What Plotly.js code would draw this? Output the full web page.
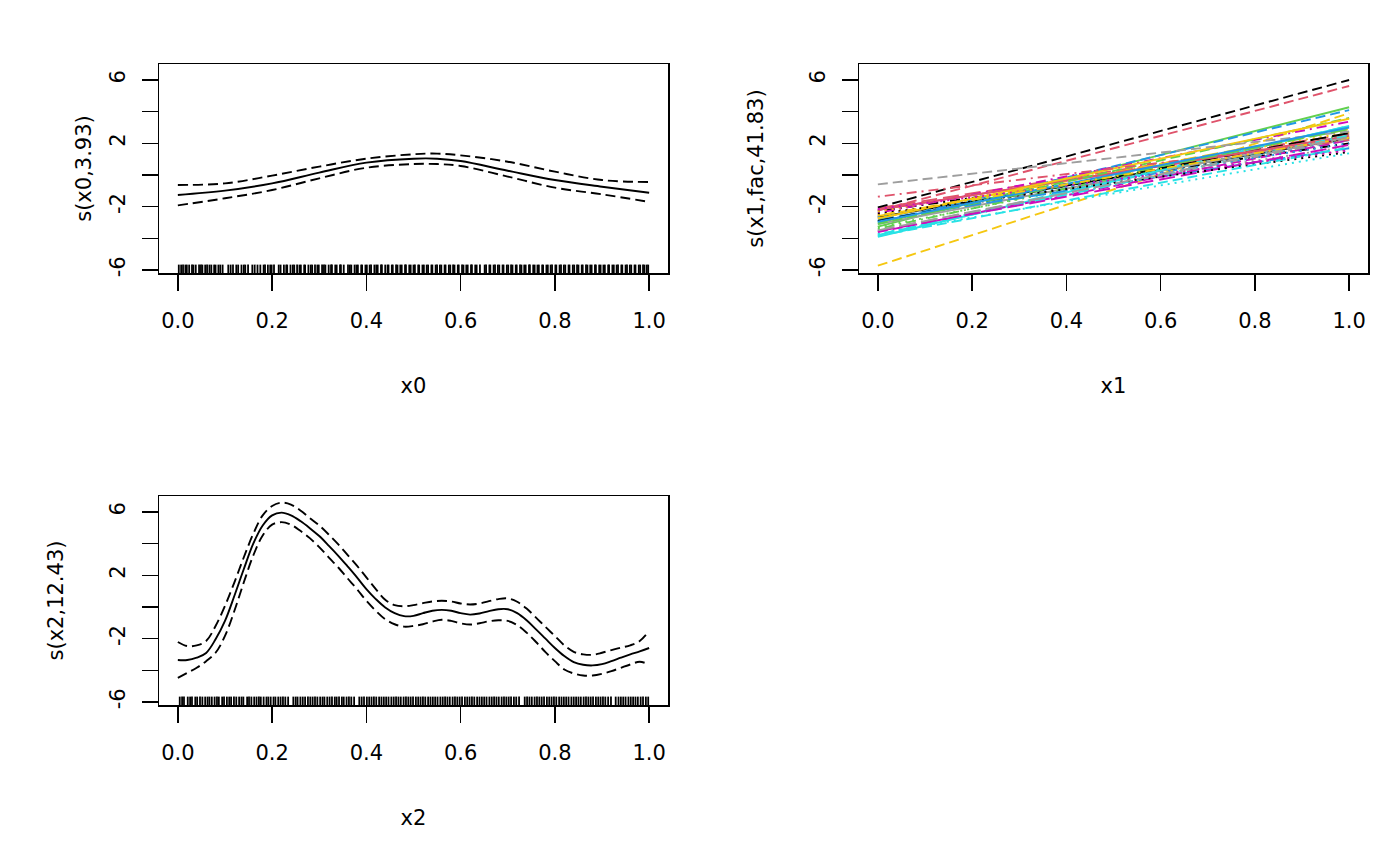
<!DOCTYPE html>
<html>
<head>
<meta charset="utf-8">
<script src="https://cdn.plot.ly/plotly-3.0.1.min.js"></script>
<style>html,body{margin:0;padding:0;background:#fff;}#plot{width:1400px;height:866px;}</style>
</head>
<body>
<div id="plot"></div>
<script>
// ---------- data ----------
// panel 1: s(x0,3.93)
const x0Grid = [0, 0.1, 0.2, 0.3, 0.4, 0.5, 0.55, 0.6, 0.7, 0.8, 0.9, 1.0];
const fit0 = [-1.26, -0.99, -0.53, 0.15, 0.78, 1.03, 1.03, 0.88, 0.27, -0.32, -0.74, -1.12];
const upper0 = [-0.63, -0.53, -0.04, 0.53, 1.03, 1.31, 1.35, 1.24, 0.84, 0.21, -0.32, -0.44];
const lower0 = [-1.92, -1.47, -0.95, -0.21, 0.46, 0.69, 0.69, 0.57, -0.10, -0.80, -1.22, -1.70];
const rug0 = [0.002,0.007,0.011,0.016,0.019,0.024,0.03,0.033,0.038,0.045,0.049,0.052,0.058,0.062,0.067,0.071,0.077,0.08,0.086,0.09,0.095,
  0.107,0.112,0.117,0.124,0.128,0.135,0.14,0.143,0.149,0.158,0.163,0.169,0.175,0.182,0.185,0.191,0.196,0.199,0.204,0.214,0.218,0.225,0.23,0.232,
  0.239,0.244,0.247,0.253,0.258,0.261,0.268,0.27,0.277,0.282,0.285,0.291,0.296,0.299,0.306,0.31,0.313,0.32,0.325,0.327,
  0.334,0.337,0.344,0.346,0.352,0.361,0.365,0.368,0.375,0.379,0.382,0.389,0.391,0.398,0.401,0.407,0.41,0.417,0.421,0.424,0.431,
  0.433,0.44,0.445,0.447,0.454,0.456,0.463,0.466,0.472,0.475,0.482,0.484,0.491,0.494,0.5,0.503,0.51,0.512,0.519,0.522,
  0.528,0.531,0.538,0.54,0.547,0.55,0.556,0.559,0.566,0.568,0.575,0.578,0.584,0.587,0.594,0.596,0.603,0.606,0.612,0.615,
  0.622,0.624,0.631,0.634,0.641,0.651,0.654,0.661,0.663,0.67,0.673,0.679,0.682,0.689,0.691,0.698,0.701,0.707,0.71,0.717,0.719,
  0.726,0.729,0.735,0.738,0.745,0.747,0.754,0.757,0.763,0.766,0.773,0.775,0.782,0.785,0.791,0.794,0.801,0.803,0.81,0.813,
  0.819,0.822,0.829,0.831,0.838,0.841,0.847,0.85,0.857,0.859,0.866,0.869,0.875,0.878,0.885,0.887,0.894,0.897,0.903,0.906,
  0.913,0.915,0.922,0.925,0.931,0.934,0.941,0.943,0.95,0.953,0.959,0.962,0.969,0.971,0.978,0.981,0.987,0.99,0.995,0.998];

// panel 2: s(x1,fac,41.83) -- one line per factor level, value at x1 = 0 and x1 = 1
const x1Ends = [0, 1];
const fsStart = [-2.67,-2.25,-3.30,-2.90,-3.80,-2.20,-5.73,-2.70,-2.30,-2.10,
                 -3.26,-3.00,-3.70,-2.40,-2.60,-3.10,-2.05,-2.50,-3.40,-2.80,
                 -3.90,-3.60,-2.30,-3.50,-2.90,-2.20,-3.10,-2.60,-3.75,-3.55,
                 -2.75,-0.59,-2.45,-1.37,-3.00,-2.95,-3.85,-2.15,-2.55,-3.50];
const fsEnd   = [2.32,5.62,2.60,2.20,3.10,2.40,3.90,1.80,2.00,2.60,
                 4.28,4.10,1.37,3.37,2.90,2.50,6.00,1.60,3.00,1.69,
                 3.10,2.20,2.70,2.30,2.65,2.45,3.60,2.00,2.50,1.90,
                 3.55,2.75,1.45,2.20,2.90,3.00,1.75,1.55,2.35,2.40];

// panel 3: s(x2,12.43)
const x2Grid = [0,0.02,0.04,0.06,0.08,0.1,0.12,0.14,0.16,0.18,0.2,0.22,0.24,0.26,0.28,0.3,0.32,0.34,0.36,0.38,
                0.4,0.42,0.44,0.46,0.48,0.5,0.52,0.54,0.56,0.58,0.6,0.62,0.64,0.66,0.68,0.7,0.72,0.74,0.76,0.78,
                0.8,0.82,0.84,0.86,0.88,0.9,0.92,0.94,0.96,0.98,1.0];
const fit2 = [-3.35,-3.35,-3.20,-2.90,-2.04,-0.88,0.71,2.40,4.00,5.15,5.79,5.96,5.79,5.43,4.98,4.48,3.88,3.25,2.57,1.87,
              1.13,0.50,-0.03,-0.39,-0.58,-0.56,-0.39,-0.24,-0.18,-0.24,-0.39,-0.48,-0.41,-0.26,-0.14,-0.14,-0.39,-0.84,-1.41,-2.00,
              -2.59,-3.10,-3.48,-3.65,-3.69,-3.61,-3.42,-3.20,-2.99,-2.80,-2.59];
const upper2 = [-2.21,-2.47,-2.42,-2.15,-1.20,0.07,1.56,3.14,4.62,5.79,6.38,6.59,6.47,6.10,5.62,5.15,4.58,3.97,3.29,2.61,
                1.87,1.13,0.46,0.12,0.05,0.12,0.24,0.35,0.39,0.35,0.22,0.16,0.22,0.37,0.50,0.54,0.33,-0.10,-0.67,-1.26,
                -1.83,-2.42,-2.83,-2.99,-3.02,-2.89,-2.72,-2.57,-2.42,-2.15,-1.51];
const lower2 = [-4.48,-4.16,-3.84,-3.42,-2.89,-1.83,-0.24,1.56,3.25,4.52,5.20,5.36,5.20,4.81,4.35,3.78,3.14,2.51,1.81,1.13,
                0.39,-0.24,-0.77,-1.09,-1.24,-1.20,-1.09,-0.92,-0.81,-0.88,-1.03,-1.11,-1.03,-0.90,-0.84,-0.88,-1.15,-1.62,-2.21,-2.85,
                -3.42,-3.95,-4.20,-4.33,-4.33,-4.22,-4.05,-3.84,-3.63,-3.46,-3.63];
const rug2 = [0.004,0.009,0.013,0.021,0.026,0.03,0.037,0.041,0.047,0.052,0.058,0.063,0.067,0.072,0.078,0.083,0.087,0.094,0.098,0.104,
  0.109,0.113,0.119,0.124,0.13,0.135,0.139,0.147,0.151,0.156,0.162,0.167,0.172,0.176,0.182,0.188,0.192,0.197,0.203,0.207,
  0.213,0.218,0.223,0.228,0.234,0.245,0.25,0.254,0.26,0.265,0.27,0.276,0.281,0.286,0.291,0.296,0.302,0.307,0.311,0.317,0.322,
  0.327,0.333,0.337,0.342,0.348,0.352,0.358,0.363,0.368,0.374,0.385,0.39,0.395,0.401,0.406,0.411,0.416,0.421,0.427,0.432,0.437,
  0.442,0.447,0.453,0.458,0.463,0.468,0.473,0.479,0.484,0.489,0.494,0.499,0.505,0.51,0.515,0.52,0.525,0.531,0.536,0.541,
  0.546,0.551,0.557,0.562,0.567,0.572,0.577,0.583,0.588,0.593,0.598,0.603,0.609,0.614,0.619,0.624,0.629,0.635,0.64,0.645,
  0.65,0.655,0.661,0.666,0.671,0.676,0.681,0.687,0.692,0.697,0.702,0.707,0.713,0.718,0.724,0.736,0.741,0.746,0.751,0.757,0.762,
  0.767,0.772,0.777,0.783,0.788,0.793,0.798,0.803,0.809,0.814,0.819,0.824,0.829,0.835,0.84,0.845,0.85,0.855,0.861,0.866,
  0.871,0.876,0.881,0.887,0.892,0.897,0.902,0.907,0.913,0.919,0.929,0.935,0.94,0.945,0.95,0.956,0.961,0.966,0.971,0.976,0.982,0.987,0.993,0.998];

const xTickVals = [0, 0.2, 0.4, 0.6, 0.8, 1.0];
const xTickText = ["0.0", "0.2", "0.4", "0.6", "0.8", "1.0"];
const yTickVals = [-6, -4, -2, 0, 2, 4, 6];
const yTickText = ["-6", "", "-2", "", "2", "", "6"];
const xLabels = ["x0", "x1", "x2"];
const yLabels = ["s(x0,3.93)", "s(x1,fac,41.83)", "s(x2,12.43)"];

// ---------- style ----------
const FONT = "DejaVu Sans";
const FS = 21;
const LW = 1.9;
const palette = ["#000000", "#DF536B", "#61D04F", "#2297E6", "#28E2E5", "#CD0BBC", "#F5C710", "#9E9E9E"];
const ltys = ["solid", "10px,5px", "2px,5px", "2px,5px,10px,5px", "16px,6px"];
const DASH = "10px,5px";
const xRange = [-0.04, 1.04];
const yRange = [-6.19, 7.01];
const rugY = yRange[0] + 0.22;

const traces = [];
function band(xa, ya, xs, fit, up, lo) {
  traces.push({x: xs, y: fit, xaxis: xa, yaxis: ya, mode: "lines", line: {color: "#000", width: LW, shape: "spline"}, hoverinfo: "skip"});
  traces.push({x: xs, y: up, xaxis: xa, yaxis: ya, mode: "lines", line: {color: "#000", width: LW, dash: DASH, shape: "spline"}, hoverinfo: "skip"});
  traces.push({x: xs, y: lo, xaxis: xa, yaxis: ya, mode: "lines", line: {color: "#000", width: LW, dash: DASH, shape: "spline"}, hoverinfo: "skip"});
}
function rug(xa, ya, vals) {
  traces.push({x: vals, y: vals.map(() => rugY), xaxis: xa, yaxis: ya, mode: "markers",
    marker: {symbol: "line-ns", size: 7, color: "#000", line: {color: "#000", width: 1.8}}, hoverinfo: "skip"});
}
band("x", "y", x0Grid, fit0, upper0, lower0);
rug("x", "y", rug0);
for (let i = 0; i < fsStart.length; i++) {
  traces.push({x: x1Ends, y: [fsStart[i], fsEnd[i]], xaxis: "x2", yaxis: "y2", mode: "lines",
    line: {color: palette[i % 8], width: LW, dash: ltys[i % 5]}, hoverinfo: "skip"});
}
band("x3", "y3", x2Grid, fit2, upper2, lower2);
rug("x3", "y3", rug2);

function xAxis(dom, anchor, label) {
  return {domain: dom, anchor: anchor, range: xRange, tickmode: "array", tickvals: xTickVals, ticktext: xTickText,
    ticks: "outside", ticklen: 16, tickwidth: 1.5, tickcolor: "#000", showline: true, mirror: true, linewidth: 1.5, linecolor: "#000",
    showgrid: false, zeroline: false, ticklabelstandoff: 12, tickfont: {family: FONT, size: FS, color: "#000"},
    title: {text: label, font: {family: FONT, size: FS, color: "#000"}, standoff: 46}, fixedrange: true};
}
function yAxis(dom, anchor, label, so) {
  return {domain: dom, anchor: anchor, range: yRange, tickmode: "array", tickvals: yTickVals, ticktext: yTickText,
    ticks: "outside", ticklen: 16, tickwidth: 1.5, tickcolor: "#000", showline: true, mirror: true, linewidth: 1.5, linecolor: "#000",
    showgrid: false, zeroline: false, tickangle: -90, ticklabelstandoff: 8, tickfont: {family: FONT, size: FS, color: "#000"},
    title: {text: label, font: {family: FONT, size: FS, color: "#000"}, standoff: so}, fixedrange: true};
}
const W = 1400, H = 866;
const layout = {
  width: W, height: H, margin: {l: 0, r: 0, t: 0, b: 0}, paper_bgcolor: "#fff", plot_bgcolor: "#fff", showlegend: false,
  xaxis:  xAxis([159 / W, 668 / W], "y", xLabels[0]),
  yaxis:  yAxis([1 - 273 / H, 1 - 64 / H], "x", yLabels[0], 8),
  xaxis2: xAxis([859 / W, 1368 / W], "y2", xLabels[1]),
  yaxis2: yAxis([1 - 273 / H, 1 - 64 / H], "x2", yLabels[1], 36),
  xaxis3: xAxis([159 / W, 668 / W], "y3", xLabels[2]),
  yaxis3: yAxis([1 - 705 / H, 1 - 496 / H], "x3", yLabels[2], 36)
};
Plotly.newPlot("plot", traces, layout, {staticPlot: true, displayModeBar: false});
</script>
</body>
</html>
